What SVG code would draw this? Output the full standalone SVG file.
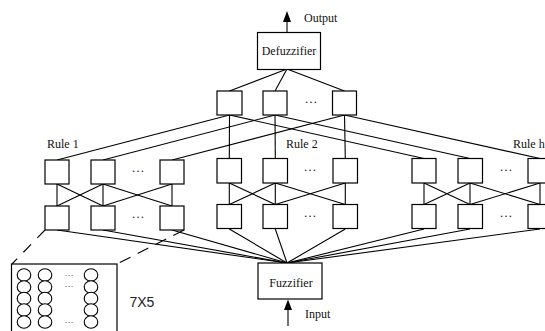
<svg xmlns="http://www.w3.org/2000/svg" width="545" height="331" viewBox="0 0 545 331">
<style>
.b{fill:#fff;stroke:#000;stroke-width:1.2}
.c line{stroke:#000;stroke-width:1.1}
.t{font-family:"Liberation Serif","Times New Roman",serif;font-size:12px;fill:#111}
.d{font-family:"Liberation Serif","Times New Roman",serif;font-size:13px;fill:#222;text-anchor:middle}
.s{font-family:"Liberation Serif","Times New Roman",serif;font-size:9px;fill:#222;text-anchor:middle}
.o{fill:#fff;stroke:#000;stroke-width:1.1}
.ah{fill:#000}
</style>
<g class="c" id="connectors">
<line x1="287" y1="69" x2="229.5" y2="91"/>
<line x1="287" y1="69" x2="275" y2="91"/>
<line x1="287" y1="69" x2="344.5" y2="91"/>
<line x1="229.5" y1="115" x2="57" y2="160"/>
<line x1="229.5" y1="115" x2="229.3" y2="158.5"/>
<line x1="229.5" y1="115" x2="424" y2="158.5"/>
<line x1="275" y1="115" x2="103" y2="160"/>
<line x1="275" y1="115" x2="275.3" y2="158.5"/>
<line x1="275" y1="115" x2="470" y2="158.5"/>
<line x1="344.5" y1="115" x2="172" y2="160"/>
<line x1="344.5" y1="115" x2="345.3" y2="158.5"/>
<line x1="344.5" y1="115" x2="540" y2="158.5"/>
<line x1="57" y1="184" x2="57" y2="206"/>
<line x1="103" y1="184" x2="103" y2="206"/>
<line x1="172" y1="184" x2="172" y2="206"/>
<line x1="57" y1="184" x2="103" y2="206"/>
<line x1="103" y1="184" x2="57" y2="206"/>
<line x1="103" y1="184" x2="172" y2="206"/>
<line x1="172" y1="184" x2="103" y2="206"/>
<line x1="229.3" y1="183" x2="229.3" y2="204.5"/>
<line x1="275.3" y1="183" x2="275.3" y2="204.5"/>
<line x1="345.3" y1="183" x2="345.3" y2="204.5"/>
<line x1="229.3" y1="183" x2="275.3" y2="204.5"/>
<line x1="275.3" y1="183" x2="229.3" y2="204.5"/>
<line x1="275.3" y1="183" x2="345.3" y2="204.5"/>
<line x1="345.3" y1="183" x2="275.3" y2="204.5"/>
<line x1="424" y1="183" x2="424" y2="204.5"/>
<line x1="470" y1="183" x2="470" y2="204.5"/>
<line x1="540" y1="183" x2="540" y2="204.5"/>
<line x1="424" y1="183" x2="470" y2="204.5"/>
<line x1="470" y1="183" x2="424" y2="204.5"/>
<line x1="470" y1="183" x2="540" y2="204.5"/>
<line x1="540" y1="183" x2="470" y2="204.5"/>
<line x1="57" y1="230" x2="287" y2="263"/>
<line x1="103" y1="230" x2="287" y2="263"/>
<line x1="172" y1="230" x2="287" y2="263"/>
<line x1="229.3" y1="229" x2="287" y2="263"/>
<line x1="275.3" y1="229" x2="287" y2="263"/>
<line x1="345.3" y1="229" x2="287" y2="263"/>
<line x1="424" y1="229" x2="287" y2="263"/>
<line x1="470" y1="229" x2="287" y2="263"/>
<line x1="540" y1="229" x2="287" y2="263"/>
<line x1="287" y1="32.5" x2="287" y2="18"/>
<polygon class="ah" points="287,11 283,22 291,22"/>
<line x1="288" y1="326" x2="288" y2="306"/>
<polygon class="ah" points="288,299.5 284,310 292,310"/>
<line x1="45" y1="230" x2="12" y2="264" stroke-dasharray="11 9"/>
<line x1="184" y1="230" x2="117" y2="264" stroke-dasharray="12 8"/>
</g>
<g id="defuzzifier">
<rect class="b" x="257.5" y="32.5" width="63" height="37"/>
<text class="t" x="289" y="55" text-anchor="middle">Defuzzifier</text>
</g>
<text class="t" x="304" y="21.5">Output</text>
<g id="top-layer">
<rect class="b" x="217" y="91" width="25" height="24"/>
<rect class="b" x="263" y="91" width="24" height="24"/>
<rect class="b" x="332.5" y="91" width="24" height="24"/>
<text class="d" x="311" y="103">…</text>
</g>
<g id="rule1">
<text class="t" x="47" y="148">Rule 1</text>
<rect class="b" x="45" y="160" width="24" height="24"/>
<rect class="b" x="91" y="160" width="24" height="24"/>
<rect class="b" x="160" y="160" width="24" height="24"/>
<text class="d" x="138" y="172">…</text>
<rect class="b" x="45" y="206" width="24" height="24"/>
<rect class="b" x="91" y="206" width="24" height="24"/>
<rect class="b" x="160" y="206" width="24" height="24"/>
<text class="d" x="138" y="218">…</text>
</g>
<g id="rule2">
<text class="t" x="286" y="148">Rule 2</text>
<rect class="b" x="217" y="158.5" width="24.5" height="24.5"/>
<rect class="b" x="263" y="158.5" width="24.5" height="24.5"/>
<rect class="b" x="333" y="158.5" width="24.5" height="24.5"/>
<text class="d" x="310" y="171">…</text>
<rect class="b" x="217" y="204.5" width="24.5" height="24"/>
<rect class="b" x="263" y="204.5" width="24.5" height="24"/>
<rect class="b" x="333" y="204.5" width="24.5" height="24"/>
<text class="d" x="310" y="217">…</text>
</g>
<g id="ruleh">
<text class="t" x="513" y="148">Rule h</text>
<rect class="b" x="412" y="158.5" width="24" height="24.5"/>
<rect class="b" x="458" y="158.5" width="24.5" height="24.5"/>
<rect class="b" x="528" y="158.5" width="24.5" height="24.5"/>
<text class="d" x="506" y="171">…</text>
<rect class="b" x="412" y="204.5" width="24" height="24"/>
<rect class="b" x="458" y="204.5" width="24.5" height="24"/>
<rect class="b" x="528" y="204.5" width="24.5" height="24"/>
<text class="d" x="506" y="217">…</text>
</g>
<g id="fuzzifier">
<rect class="b" x="258" y="263" width="64" height="36"/>
<text class="t" x="291" y="287" text-anchor="middle">Fuzzifier</text>
</g>
<text class="t" x="305" y="318">Input</text>
<g id="inset">
<rect class="b" x="11.5" y="264" width="105.5" height="80"/>
<ellipse class="o" cx="24" cy="275" rx="6.8" ry="6.3"/>
<ellipse class="o" cx="24" cy="287" rx="6.8" ry="6.3"/>
<ellipse class="o" cx="24" cy="298.5" rx="6.8" ry="6.3"/>
<ellipse class="o" cx="24" cy="310" rx="6.8" ry="6.3"/>
<ellipse class="o" cx="24" cy="322" rx="6.8" ry="6.3"/>
<ellipse class="o" cx="45" cy="275" rx="6.8" ry="6.3"/>
<ellipse class="o" cx="45" cy="287" rx="6.8" ry="6.3"/>
<ellipse class="o" cx="45" cy="298.5" rx="6.8" ry="6.3"/>
<ellipse class="o" cx="45" cy="310" rx="6.8" ry="6.3"/>
<ellipse class="o" cx="45" cy="322" rx="6.8" ry="6.3"/>
<ellipse class="o" cx="91" cy="275" rx="6.8" ry="6.3"/>
<ellipse class="o" cx="91" cy="287" rx="6.8" ry="6.3"/>
<ellipse class="o" cx="91" cy="298.5" rx="6.8" ry="6.3"/>
<ellipse class="o" cx="91" cy="310" rx="6.8" ry="6.3"/>
<ellipse class="o" cx="91" cy="322" rx="6.8" ry="6.3"/>
<text class="s" x="69" y="276">…</text>
<text class="s" x="69" y="287">…</text>
<text class="s" x="69" y="323">…</text>
</g>
<text x="129.5" y="306.5" font-family="Liberation Sans, Arial, sans-serif" font-size="14" fill="#222">7X5</text>
</svg>
